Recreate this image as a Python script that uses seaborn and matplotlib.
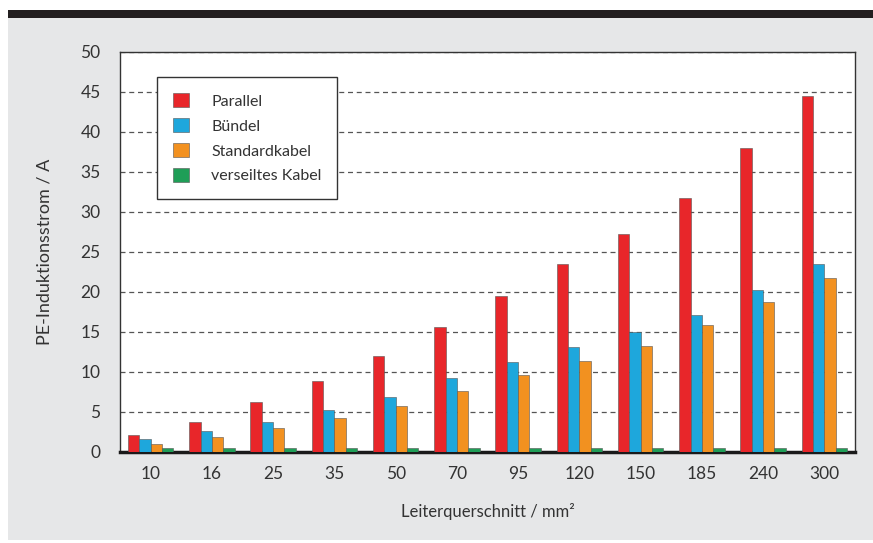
import matplotlib.pyplot as plt
import matplotlib.patches as mpatches
import pandas as pd
import seaborn as sns

# Data
querschnitt = ['10', '16', '25', '35', '50', '70', '95', '120', '150', '185', '240', '300']
parallel = [2.1, 3.75, 6.25, 8.9, 12.0, 15.6, 19.5, 23.5, 27.3, 31.7, 38.0, 44.5]
buendel = [1.6, 2.6, 3.75, 5.25, 6.9, 9.25, 11.25, 13.1, 15.0, 17.1, 20.3, 23.5]
standardkabel = [1.0, 1.9, 3.0, 4.25, 5.75, 7.6, 9.6, 11.4, 13.3, 15.9, 18.7, 21.8]
verseilt = [0.5, 0.5, 0.5, 0.5, 0.5, 0.5, 0.5, 0.5, 0.5, 0.5, 0.5, 0.5]
serien = ['Parallel', 'Bündel', 'Standardkabel', 'verseiltes Kabel']
farben = ['#e8262a', '#1ea7dc', '#f29120', '#1f9e57']

rows = []
for name, werte in zip(serien, [parallel, buendel, standardkabel, verseilt]):
    for q, v in zip(querschnitt, werte):
        rows.append({'Querschnitt': q, 'Strom': v, 'Typ': name})
df = pd.DataFrame(rows)

sns.set_style('white')
plt.rcParams['font.family'] = ['Lato', 'DejaVu Sans']
textfarbe = '#333333'

fig = plt.figure(figsize=(8.73, 5.43), dpi=100)
fig.patch.set_facecolor('white')

# grey panel and dark band on top
fig.add_artist(mpatches.Rectangle((8 / 873, 3 / 543), 1 - 8 / 873, (543 - 21) / 543,
                                  transform=fig.transFigure, facecolor='#e6e7e8',
                                  edgecolor='none', zorder=0))
fig.add_artist(mpatches.Rectangle((8 / 873, (543 - 18) / 543), 1 - 8 / 873, 8 / 543,
                                  transform=fig.transFigure, facecolor='#231f20',
                                  edgecolor='none', zorder=0))

ax = fig.add_axes([120 / 873, (543 - 452) / 543, 735 / 873, 400 / 543])
ax.set_facecolor('white')

sns.barplot(data=df, x='Querschnitt', y='Strom', hue='Typ', order=querschnitt,
            hue_order=serien, palette=farben, width=0.74, saturation=1,
            edgecolor='#555555', linewidth=0.4, ax=ax, zorder=3)

ax.set_ylim(0, 50)
ax.set_yticks(range(0, 51, 5))
ax.yaxis.grid(True, linestyle=(0, (4, 3)), color='#555555', linewidth=0.9, zorder=0)
ax.set_axisbelow(True)

for side in ['top', 'left', 'right']:
    ax.spines[side].set_color('#333333')
    ax.spines[side].set_linewidth(1.0)
ax.spines['bottom'].set_color('#1a1a1a')
ax.spines['bottom'].set_linewidth(2.5)

ax.tick_params(axis='both', length=0, labelsize=12.5, labelcolor=textfarbe)
ax.tick_params(axis='y', pad=14)
ax.tick_params(axis='x', pad=10)

ax.set_xlabel('Leiterquerschnitt / mm²', fontsize=12, color=textfarbe, labelpad=15)
ax.set_ylabel('PE-Induktionsstrom / A', fontsize=13, color=textfarbe, labelpad=20)

leg = ax.legend(loc='upper left', bbox_to_anchor=(0.05, 0.937), frameon=True,
                fancybox=False, fontsize=11.5, labelspacing=0.58, handlelength=1.0,
                handleheight=1.0, handletextpad=1.4, borderpad=1.0,
                borderaxespad=0, title=None)
leg.get_frame().set_edgecolor('#333333')
leg.get_frame().set_linewidth(1.0)
leg.get_frame().set_facecolor('white')
leg.get_frame().set_alpha(1)
for t in leg.get_texts():
    t.set_color(textfarbe)

fig.savefig('out.png', dpi=100)
